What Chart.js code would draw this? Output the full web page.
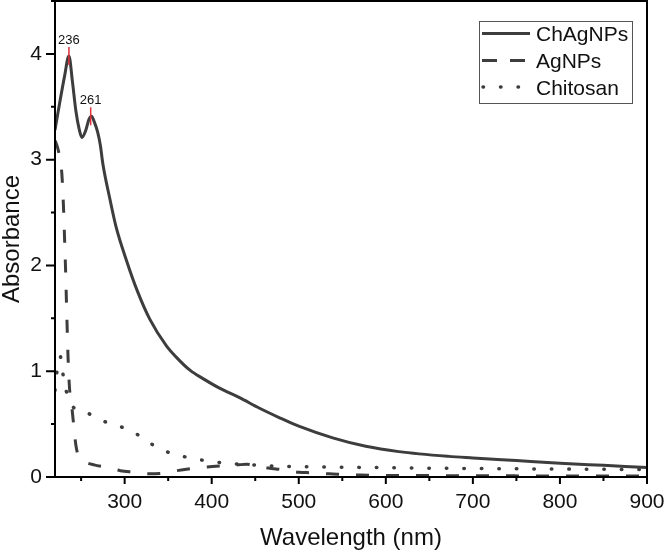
<!DOCTYPE html>
<html>
<head>
<meta charset="utf-8">
<script src="https://cdn.jsdelivr.net/npm/chart.js@4.4.1/dist/chart.umd.min.js"></script>
<style>
  html, body { margin: 0; padding: 0; background: #fff; }
  #wrap { width: 664px; height: 553px; }
</style>
</head>
<body>
<div id="wrap"><canvas id="uvChart"></canvas></div>
<script>
// UV-Vis spectra
const chagWave = [220, 225, 231, 236, 240, 244, 248, 251, 255, 259, 262, 265, 269, 272, 275, 283, 290, 302, 315, 329, 348, 362, 375, 390, 409, 432, 455, 478, 500, 539, 577, 615, 672, 700, 750, 800, 850, 900];
const chagAbs  = [3.28, 3.52, 3.79, 3.98, 3.74, 3.46, 3.28, 3.21, 3.27, 3.38, 3.41, 3.36, 3.26, 3.14, 2.96, 2.63, 2.37, 2.05, 1.75, 1.49, 1.24, 1.11, 1.01, 0.93, 0.84, 0.75, 0.65, 0.56, 0.48, 0.37, 0.29, 0.24, 0.195, 0.18, 0.155, 0.13, 0.11, 0.09];

const agWave = [220, 222, 225, 228, 230, 231, 232, 233, 234, 235, 236.5, 240, 244, 248, 255, 265, 280, 295, 310, 327, 343, 360, 378, 395, 411, 430, 440, 450, 465, 480, 500, 515, 535, 550, 570, 600, 700, 800, 900];
const agAbs  = [3.18, 3.14, 3.04, 2.85, 2.5, 2.25, 2.0, 1.7, 1.4, 1.13, 0.86, 0.61, 0.3, 0.18, 0.14, 0.115, 0.09, 0.06, 0.045, 0.03, 0.035, 0.06, 0.08, 0.095, 0.105, 0.115, 0.12, 0.11, 0.085, 0.07, 0.045, 0.04, 0.03, 0.025, 0.018, 0.015, 0.012, 0.01, 0.01];

const chitWave = [220, 222, 226, 229, 233, 239, 256, 275, 294, 313, 329, 348, 367, 385, 406, 426, 447, 468, 490, 550, 600, 700, 800, 900];
const chitAbs  = [0.82, 0.98, 1.14, 0.98, 0.81, 0.68, 0.61, 0.53, 0.48, 0.41, 0.32, 0.24, 0.195, 0.165, 0.14, 0.125, 0.115, 0.105, 0.1, 0.093, 0.088, 0.08, 0.075, 0.07];

const seriesNames = ['ChAgNPs', 'AgNPs', 'Chitosan'];
const peakWaves = [236, 261];
const peakAbs   = [3.98, 3.41];

const xTicks = [300, 400, 500, 600, 700, 800, 900];
const xMinor = [250, 350, 450, 550, 650, 750, 850];
const yTicks = [0, 1, 2, 3, 4];
const yMinor = [0.5, 1.5, 2.5, 3.5, 4.5];

const FONT = '"Liberation Sans", Arial, sans-serif';
const INK = '#3d3d3d';

function toPoints(xs, ys) {
  return xs.map((x, i) => ({ x: x, y: ys[i] }));
}

// frame, tick marks, peak markers and legend
const decorations = {
  id: 'decorations',
  afterDraw(chart) {
    const ctx = chart.ctx;
    const a = chart.chartArea;
    const xs = chart.scales.x, ys = chart.scales.y;
    ctx.save();

    // frame
    ctx.strokeStyle = '#000';
    ctx.lineWidth = 2;
    ctx.strokeRect(a.left, a.top, a.right - a.left, a.bottom - a.top);

    // ticks
    ctx.lineWidth = 2;
    ctx.beginPath();
    xTicks.forEach(v => { const p = xs.getPixelForValue(v); ctx.moveTo(p, a.bottom); ctx.lineTo(p, a.bottom + 7); });
    xMinor.forEach(v => { const p = xs.getPixelForValue(v); ctx.moveTo(p, a.bottom); ctx.lineTo(p, a.bottom + 4); });
    yTicks.forEach(v => { const p = ys.getPixelForValue(v); ctx.moveTo(a.left, p); ctx.lineTo(a.left - 9, p); });
    yMinor.forEach(v => { const p = ys.getPixelForValue(v); ctx.moveTo(a.left, p); ctx.lineTo(a.left - 4, p); });
    ctx.stroke();

    // peak markers
    ctx.strokeStyle = '#e0303a';
    ctx.lineWidth = 1.5;
    ctx.fillStyle = '#111';
    ctx.font = '13px ' + FONT;
    ctx.textAlign = 'center';
    ctx.textBaseline = 'middle';
    peakWaves.forEach((w, i) => {
      const px = xs.getPixelForValue(w);
      const py = ys.getPixelForValue(peakAbs[i]);
      ctx.beginPath();
      ctx.moveTo(px, py - 9);
      ctx.lineTo(px, py + 9);
      ctx.stroke();
      ctx.fillText(String(w), px, py - 16);
    });

    // legend
    const lx = 479, ly = 21, lw = 153, lh = 82;
    ctx.strokeStyle = '#555';
    ctx.lineWidth = 1;
    ctx.strokeRect(lx + 0.5, ly + 0.5, lw, lh);
    const rows = [35.5, 62.5, 89];
    const dashes = [[], [15, 13], [0.5, 17]];
    ctx.font = '21px ' + FONT;
    ctx.textAlign = 'left';
    seriesNames.forEach((name, i) => {
      ctx.strokeStyle = INK;
      ctx.lineWidth = i === 2 ? 3.5 : 3;
      ctx.lineCap = i === 2 ? 'round' : 'butt';
      ctx.setLineDash(dashes[i]);
      ctx.beginPath();
      ctx.moveTo(i === 2 ? 483 : 482, rows[i] - 2);
      ctx.lineTo(530, rows[i] - 2);
      ctx.stroke();
      ctx.setLineDash([]);
      ctx.fillStyle = '#111';
      ctx.fillText(name, 536, rows[i]);
    });
    ctx.restore();
  }
};

const ctxUv = document.getElementById('uvChart').getContext('2d');
const uvChart = new Chart(ctxUv, {
  type: 'line',
  data: {
    datasets: [
      {
        label: seriesNames[0],
        data: toPoints(chagWave, chagAbs),
        borderColor: INK,
        borderWidth: 3,
        cubicInterpolationMode: 'monotone',
        pointRadius: 0
      },
      {
        label: seriesNames[1],
        data: toPoints(agWave, agAbs),
        borderColor: INK,
        borderWidth: 3,
        borderDash: [13, 17],
        cubicInterpolationMode: 'monotone',
        pointRadius: 0
      },
      {
        label: seriesNames[2],
        data: toPoints(chitWave, chitAbs),
        borderColor: INK,
        borderWidth: 3.5,
        borderDash: [0.5, 17],
        borderCapStyle: 'round',
        cubicInterpolationMode: 'monotone',
        pointRadius: 0
      }
    ]
  },
  options: {
    responsive: true,
    maintainAspectRatio: false,
    animation: false,
    layout: { padding: { top: 1, right: 17, left: 0, bottom: 0 } },
    plugins: {
      legend: { display: false },
      tooltip: { enabled: false }
    },
    scales: {
      x: {
        type: 'linear',
        min: 220,
        max: 900,
        grid: { display: false, drawTicks: false },
        border: { display: false },
        afterBuildTicks: s => { s.ticks = xTicks.map(v => ({ value: v })); },
        afterFit: s => { s.height = 76; s.paddingLeft = 0; s.paddingRight = 0; },
        ticks: {
          color: '#111',
          padding: 13,
          maxRotation: 0,
          font: { family: FONT, size: 21 }
        },
        title: {
          display: true,
          text: 'Wavelength (nm)',
          color: '#111',
          padding: { top: 0, bottom: 0 },
          font: { family: FONT, size: 24 }
        }
      },
      y: {
        min: 0,
        max: 4.5,
        grid: { display: false, drawTicks: false },
        border: { display: false },
        afterBuildTicks: s => { s.ticks = yTicks.map(v => ({ value: v })); },
        afterFit: s => { s.width = 55; s.paddingTop = 0; s.paddingBottom = 0; },
        ticks: {
          color: '#111',
          padding: 13,
          font: { family: FONT, size: 21 }
        },
        title: {
          display: true,
          text: 'Absorbance',
          color: '#111',
          padding: { top: 0, bottom: 0 },
          font: { family: FONT, size: 24, lineHeight: 1 }
        }
      }
    }
  },
  plugins: [decorations]
});
</script>
</body>
</html>
